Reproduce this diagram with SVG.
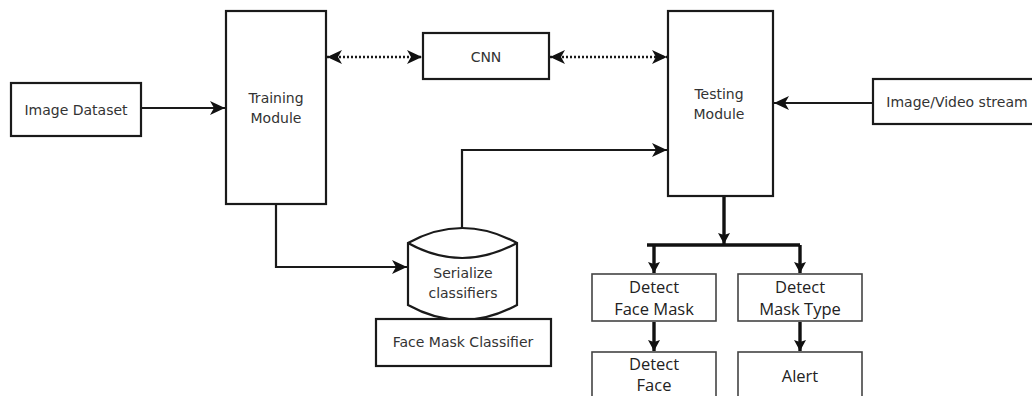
<svg xmlns="http://www.w3.org/2000/svg" width="1032" height="396" viewBox="0 0 1032 396">
<defs>
<style>
.box{fill:#fff;stroke:#1a1a1a;stroke-width:2.2}
.sbox{fill:#fff;stroke:#444;stroke-width:1.6}
.t{font-family:"DejaVu Sans",Verdana,sans-serif;font-size:14px;fill:#333;text-anchor:middle}
.c{font-family:"Open Sans",Lato,sans-serif;font-size:16.5px;fill:#222;text-anchor:middle}
.ln{fill:none;stroke:#1a1a1a;stroke-width:2.2}
.dot{fill:none;stroke:#1a1a1a;stroke-width:2.6;stroke-dasharray:2 2}
.thk{fill:none;stroke:#111;stroke-width:3.4}
</style>
<marker id="ah" markerUnits="userSpaceOnUse" markerWidth="16" markerHeight="14" refX="15" refY="7" orient="auto-start-reverse">
<path d="M0,0 L15,7 L0,14 L4,7 z" fill="#111"/>
</marker>
<marker id="ahs" markerUnits="userSpaceOnUse" markerWidth="12" markerHeight="12" refX="11" refY="6" orient="auto">
<path d="M0,0 L11,6 L0,12 L2,6 z" fill="#111"/>
</marker>
</defs>
<rect width="1032" height="396" fill="#fff"/>
<g id="connectors">
<line class="ln" x1="141" y1="108" x2="225" y2="108" marker-end="url(#ah)"/>
<line class="dot" x1="327" y1="57" x2="422" y2="57" marker-start="url(#ah)" marker-end="url(#ah)"/>
<line class="dot" x1="550" y1="57" x2="667" y2="57" marker-start="url(#ah)" marker-end="url(#ah)"/>
<line class="ln" x1="873" y1="103" x2="774" y2="103" marker-end="url(#ah)"/>
<polyline class="ln" points="276,205 276,267 407,267" marker-end="url(#ah)"/>
<polyline class="ln" points="462,228 462,150 667,150" marker-end="url(#ah)"/>
<line class="thk" x1="724" y1="197" x2="724" y2="244" marker-end="url(#ahs)"/>
<polyline class="thk" points="647,245 800,245"/>
<line class="thk" x1="654" y1="245" x2="654" y2="273" marker-end="url(#ahs)"/>
<line class="thk" x1="800" y1="245" x2="800" y2="273" marker-end="url(#ahs)"/>
<line class="thk" x1="654" y1="322" x2="654" y2="351" marker-end="url(#ahs)"/>
<line class="thk" x1="800" y1="322" x2="800" y2="351" marker-end="url(#ahs)"/>
</g>
<g id="image-dataset">
<rect class="box" x="11" y="83" width="130" height="53"/>
<text class="t" x="76" y="115">Image Dataset</text>
</g>
<g id="training-module">
<rect class="box" x="226" y="11" width="100" height="193"/>
<text class="t" x="276" y="103">Training</text>
<text class="t" x="276" y="123">Module</text>
</g>
<g id="cnn">
<rect class="box" x="423" y="33" width="126" height="46"/>
<text class="t" x="486" y="62">CNN</text>
</g>
<g id="testing-module">
<rect class="box" x="668" y="11" width="105" height="185"/>
<text class="t" x="719" y="99">Testing</text>
<text class="t" x="719" y="119">Module</text>
</g>
<g id="image-video-stream">
<rect class="box" x="873" y="79" width="170" height="45"/>
<text class="t" x="957" y="107">Image/Video stream</text>
</g>
<g id="serialize-classifiers">
<path class="box" d="M408,243 Q462,213 517,243 L517,305 Q462,335 408,305 Z"/>
<path class="ln" d="M408,243 Q462,273 517,243"/>
<text class="t" x="463" y="278">Serialize</text>
<text class="t" x="463" y="298">classifiers</text>
</g>
<g id="face-mask-classifier">
<rect class="box" x="376" y="319" width="175" height="47"/>
<text class="t" x="463" y="347">Face Mask Classifier</text>
</g>
<g id="detect-face-mask">
<rect class="sbox" x="592" y="274" width="124" height="47"/>
<text class="c" x="654" y="293">Detect</text>
<text class="c" x="654" y="315">Face Mask</text>
</g>
<g id="detect-mask-type">
<rect class="sbox" x="738" y="274" width="124" height="47"/>
<text class="c" x="800" y="293">Detect</text>
<text class="c" x="800" y="315">Mask Type</text>
</g>
<g id="detect-face">
<rect class="sbox" x="592" y="352" width="124" height="60"/>
<text class="c" x="654" y="370">Detect</text>
<text class="c" x="654" y="391">Face</text>
</g>
<g id="alert">
<rect class="sbox" x="738" y="352" width="124" height="60"/>
<text class="c" x="800" y="382">Alert</text>
</g>
</svg>
